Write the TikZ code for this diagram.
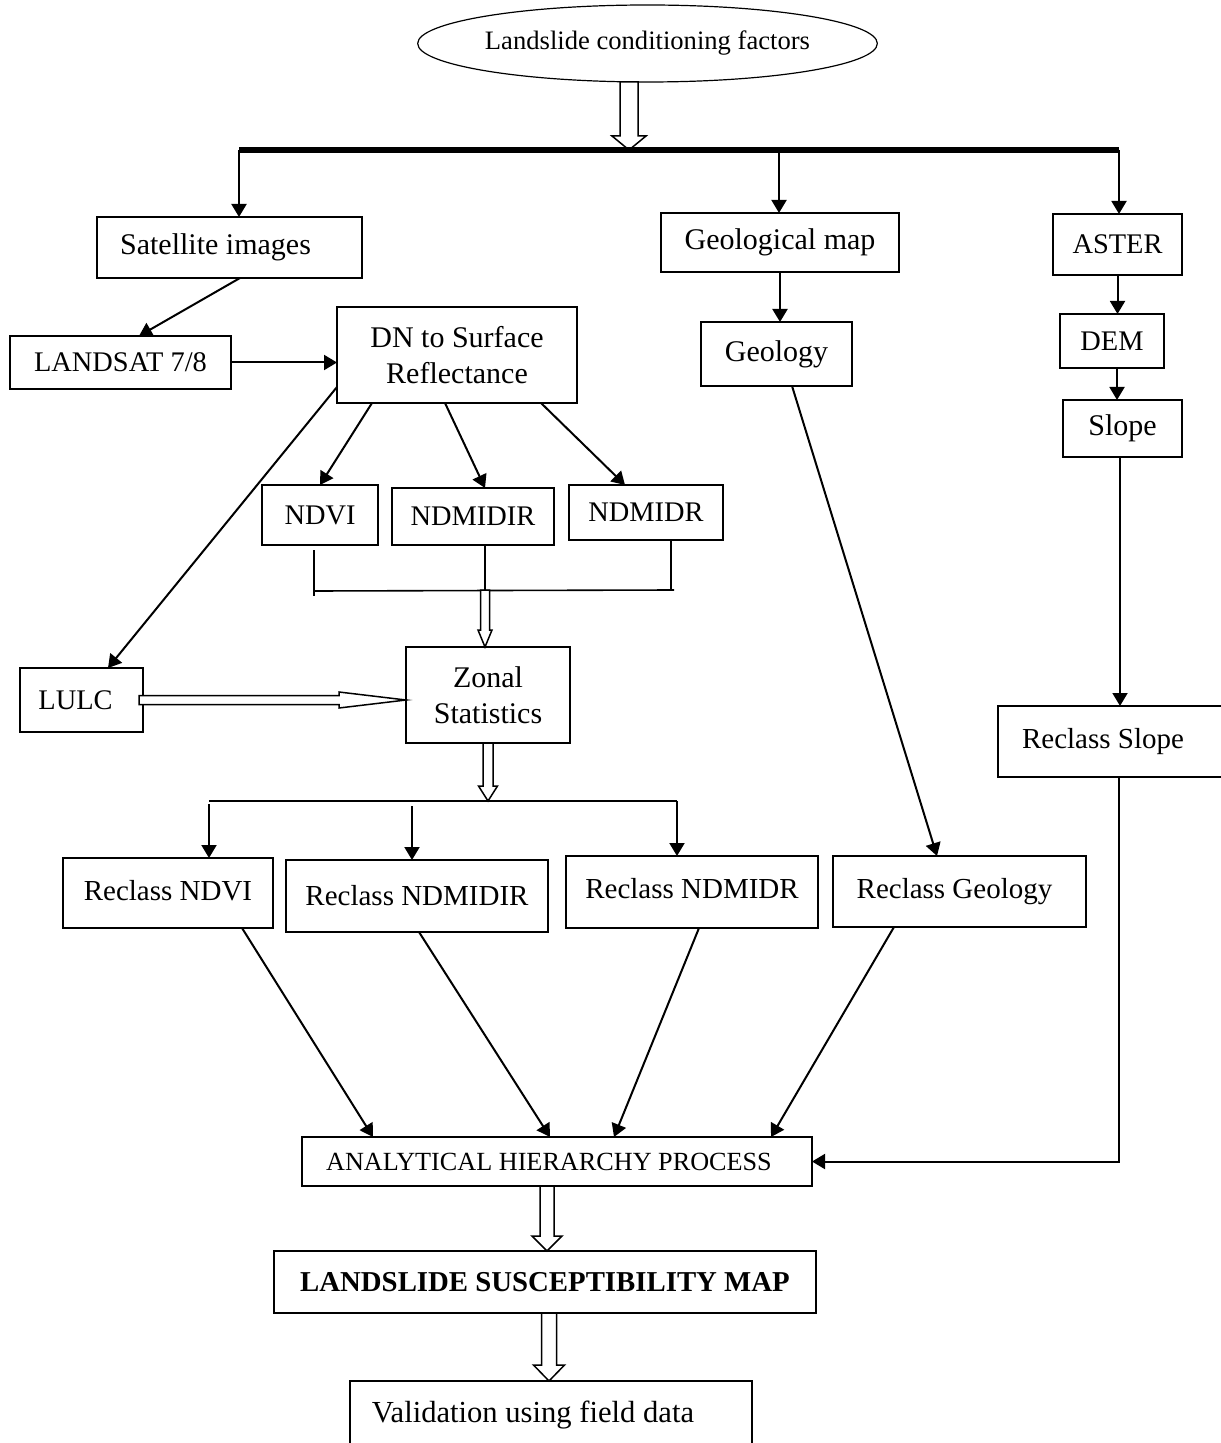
\documentclass[tikz,border=0pt]{standalone}
\usepackage{fontspec}
\setmainfont{Liberation Serif}
\usetikzlibrary{arrows.meta,shapes.geometric,calc}
\newcommand\fmix{\fontsize{15}{18}\selectfont}
\newcommand\fcap{\fontsize{14.2}{16}\selectfont}
\newcommand\frec{\fontsize{14.5}{18}\selectfont}
\newcommand\hollowv[5]{\draw[hol] let \p1=(#1), \p2=(#2) in (\x1-#3,\y1) -- (\x1-#3,\y2+#5) -- (\x1-#4,\y2+#5) -- (\x1,\y2) -- (\x1+#4,\y2+#5) -- (\x1+#3,\y2+#5) -- (\x1+#3,\y1) -- cycle;}
\newcommand\hollowh[5]{\draw[hol] let \p1=(#1), \p2=(#2) in (\x1,\y1-#3) -- (\x2-#5,\y1-#3) -- (\x2-#5,\y1-#4) -- (\x2,\y1) -- (\x2-#5,\y1+#4) -- (\x2-#5,\y1+#3) -- (\x1,\y1+#3) -- cycle;}
\newcommand\bx[7]{\node[#1, minimum width={(#5-#3)*0.5pt}, minimum height={(#6-#4)*0.5pt}] (#2) at ({(#3+#5)/2},{(#4+#6)/2}) {#7};}
\begin{document}
\begin{tikzpicture}[x=0.5pt,y=-0.5pt,
  box/.style={draw, rectangle, inner sep=0pt, outer sep=0pt, line width=1pt, align=center, font=\fmix},
  capbox/.style={box, font=\fcap},
  recbox/.style={box, font=\frec},
  ellnode/.style={draw, ellipse, inner sep=0pt, outer sep=0pt, line width=0.6pt, font=\fontsize{13.3}{16}\selectfont},
  arr/.style={line width=1pt, -{Triangle[length=6.5pt,width=7.5pt]}},
  br/.style={line width=0.8pt},
  hol/.style={draw, fill=white, line width=0.75pt, line join=miter}]
\fill[white] (0,0) rectangle (1220,1443);
\useasboundingbox (0,0) rectangle (1220,1443);

% nodes
\node[ellnode, minimum width=222.5pt, minimum height=38.5pt] (ell) at (647.5,43.5) {Landslide conditioning factors};
\bx{box}{sat}{97}{217}{362}{278}{\hspace*{-14pt}Satellite images}
\bx{box}{geomap}{661}{213}{899}{272}{Geological map}
\bx{capbox}{aster}{1053}{214}{1182}{275}{ASTER}
\bx{capbox}{landsat}{10}{336}{231}{389}{LANDSAT 7/8}
\bx{box}{dn}{337}{307}{577}{403}{DN to Surface\\Reflectance}
\bx{box}{geology}{701}{322}{852}{386}{Geology}
\bx{capbox}{dem}{1060}{314}{1164}{368}{DEM}
\bx{box}{slope}{1063}{400}{1182}{457}{Slope}
\bx{capbox}{ndvi}{262}{485}{378}{545}{NDVI}
\bx{capbox}{ndmidir}{392}{488}{554}{545}{NDMIDIR}
\bx{capbox}{ndmidr}{569}{485}{723}{540}{NDMIDR}
\bx{capbox}{lulc}{20}{668}{143}{732}{\hspace*{-6pt}LULC}
\bx{box}{zonal}{406}{647}{570}{743}{Zonal\\Statistics}
\bx{recbox}{rslope}{998}{706}{1240}{777}{\hspace*{-16pt}Reclass Slope}
\bx{recbox}{rndvi}{63}{858}{273}{928}{\raisebox{3pt}{Reclass NDVI}}
\bx{recbox}{rndmidir}{286}{860}{548}{932}{Reclass NDMIDIR}
\bx{recbox}{rndmidr}{566}{856}{818}{928}{\raisebox{4pt}{Reclass NDMIDR}}
\bx{recbox}{rgeo}{833}{856}{1086}{927}{\hspace*{-5pt}\raisebox{2pt}{Reclass Geology}}
\bx{box, font=\fontsize{13.1}{16}\selectfont}{ahp}{302}{1137}{812}{1186}{\hspace*{-8pt}ANALYTICAL HIERARCHY PROCESS}
\bx{box, font=\fontsize{14.4}{17}\selectfont\bfseries}{lsm}{274}{1251}{816}{1313}{LANDSLIDE SUSCEPTIBILITY MAP}
\bx{box, font=\fontsize{15.3}{18}\selectfont}{val}{350}{1381}{752}{1450}{\hspace*{-18pt}Validation using field data}

% coordinates
\coordinate (barL) at (239,150);
\coordinate (barG) at (779,150);
\coordinate (barR) at (1119,150);
\coordinate (brL) at (314,591);
\coordinate (brM) at (485,590);
\coordinate (brR) at (674,590);
\coordinate (lbL) at (209,801);
\coordinate (lb2) at (412,801);
\coordinate (lbR) at (677,801);

% top
\hollowv{[xshift=-9.25pt]ell.south}{[xshift=-9.25pt]ell.south |- barL}{4.5pt}{8.5pt}{7pt}
\draw[line width=3pt] (barL) -- (barR);
\draw[arr] (barL) -- (barL |- sat.north);
\draw[arr] (barG) -- (barG |- geomap.north);
\draw[arr] (barR) -- (barR |- aster.north);

% left branch
\draw[arr] ([xshift=5.25pt]sat.south) -- ([xshift=9.25pt]landsat.north);
\draw[arr] (landsat.east) -- (landsat.east -| dn.west);
\draw[arr] ([xshift=-42.5pt]dn.south) -- (ndvi.north);
\draw[arr] ([xshift=-6pt]dn.south) -- ([xshift=6pt]ndmidir.north);
\draw[arr] ([xshift=42pt]dn.south) -- ([xshift=-10.5pt]ndmidr.north);
\draw[arr] ([yshift=-16pt]dn.west) -- ([xshift=13.25pt]lulc.north);

% bracket
\draw[br] ([xshift=-3pt,yshift=-2.5pt]ndvi.south) -- ([yshift=-2.5pt]brL);
\draw[br] (brL) -- (brR);
\draw[br] ([xshift=6pt]ndmidir.south) -- (brM);
\draw[br] ([xshift=12.5pt]ndmidr.south) -- ([xshift=12.5pt]ndmidr.south |- brR);
\hollowv{brM}{brM |- zonal.north}{2.25pt}{3.5pt}{8.5pt}
\hollowh{[xshift=-2pt]lulc.east}{lulc.east -| zonal.west}{2.25pt}{4pt}{33.5pt}
\hollowv{zonal.south}{zonal.south |- lbL}{2.5pt}{4.75pt}{7.5pt}

% lower bar
\draw[line width=1pt] (lbL) -- (lbR);
\draw[arr] ([yshift=-1.5pt]lbL) -- (lbL |- rndvi.north);
\draw[arr] ([yshift=-2.5pt]lb2) -- (lb2 |- rndmidir.north);
\draw[arr] (lbR) -- (lbR |- rndmidr.north);

% middle & right columns
\draw[arr] (geomap.south) -- (geomap.south |- geology.north);
\draw[arr] ([xshift=7.75pt]geology.south) -- ([xshift=-11.25pt]rgeo.north);
\draw[arr] (aster.south) -- (aster.south |- dem.north);
\draw[arr] ([xshift=2.5pt]dem.south) -- ([xshift=2.5pt]dem.south |- slope.north);
\draw[arr] ([xshift=-1.25pt]slope.south) -- ([xshift=-1.25pt]slope.south |- rslope.north);
\draw[arr] (rslope.south) |- (ahp.east);

% into AHP
\draw[arr] ([xshift=37pt]rndvi.south) -- ([xshift=-92pt]ahp.north);
\draw[arr] ([xshift=1pt]rndmidir.south) -- ([xshift=-3.5pt]ahp.north);
\draw[arr] ([xshift=3.5pt]rndmidr.south) -- ([xshift=28.5pt]ahp.north);
\draw[arr] ([xshift=-32.75pt]rgeo.south) -- ([xshift=107pt]ahp.north);

% bottom
\hollowv{[xshift=-5pt]ahp.south}{[xshift=-5pt]ahp.south |- lsm.north}{3.5pt}{7.5pt}{7.5pt}
\hollowv{[xshift=2pt]lsm.south}{[xshift=2pt]lsm.south |- val.north}{3.75pt}{7.75pt}{8pt}
\end{tikzpicture}
\end{document}
